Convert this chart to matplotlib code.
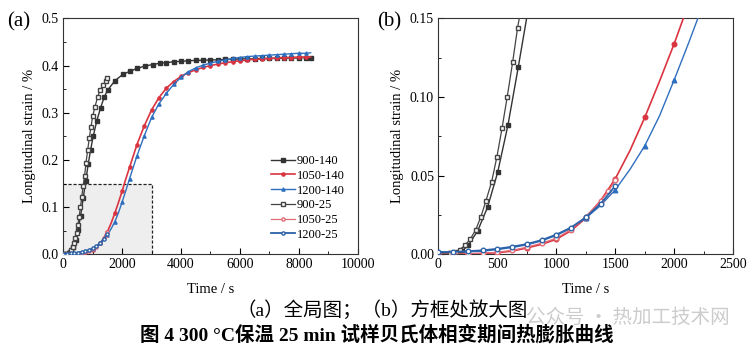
import numpy as np
import matplotlib.pyplot as plt
from matplotlib.ticker import MultipleLocator

plt.rcParams['font.family'] = ['Liberation Serif', 'Noto Sans CJK SC']

# ── Data ──────────────────────────────────────────────────────────────────────
t_900_140 = [0, 100, 200, 254, 334, 418, 503, 590, 678, 760, 850, 930, 1020, 1140,
             1270, 1390, 1508, 1757, 2018, 2266, 2515, 2776, 3038, 3286, 3500, 3750,
             4000, 4250, 4500, 4750, 5000, 5250, 5500, 5750, 6000, 6250, 6500, 6750,
             7000, 7250, 7500, 7750, 8000, 8250, 8400]
s_900_140 = [0.0005, 0.0005, 0.002, 0.0057, 0.0149, 0.030, 0.052, 0.082, 0.119, 0.155,
             0.192, 0.222, 0.251, 0.283, 0.311, 0.333, 0.348, 0.368, 0.381, 0.388,
             0.394, 0.399, 0.402, 0.405, 0.406, 0.408, 0.409, 0.410, 0.411, 0.411,
             0.412, 0.412, 0.413, 0.413, 0.414, 0.414, 0.414, 0.415, 0.415, 0.415,
             0.416, 0.416, 0.416, 0.417, 0.417]

t_900_25 = [0, 100, 150, 181, 226, 271, 317, 362, 404, 452, 497, 540, 584, 630, 672,
            725, 770, 829, 884, 940, 998, 1077, 1168, 1247, 1360, 1451, 1500]
s_900_25 = [0.001, 0.001, 0.0015, 0.003, 0.0057, 0.0096, 0.0155, 0.024, 0.034, 0.046,
            0.062, 0.080, 0.100, 0.122, 0.144, 0.166, 0.193, 0.221, 0.246, 0.270,
            0.292, 0.313, 0.333, 0.348, 0.359, 0.368, 0.373]

t_1050_140 = [0, 125, 250, 375, 500, 625, 750, 875, 1000, 1125, 1250, 1375, 1500, 1625,
              1750, 1875, 2000, 2125, 2250, 2500, 2750, 3000, 3250, 3500, 3750, 4000,
              4250, 4500, 4750, 5000, 5250, 5500, 5750, 6000, 6250, 6500, 6750, 7000,
              7250, 7500, 7750, 8000, 8250, 8400]
s_1050_140 = [0.0, 0.0, 0.0002, 0.0005, 0.001, 0.002, 0.004, 0.0063, 0.0095, 0.015,
              0.023, 0.034, 0.048, 0.066, 0.087, 0.110, 0.134, 0.160, 0.184, 0.232,
              0.272, 0.306, 0.332, 0.352, 0.366, 0.377, 0.385, 0.391, 0.396, 0.400,
              0.403, 0.406, 0.408, 0.410, 0.412, 0.413, 0.414, 0.415, 0.416, 0.417,
              0.417, 0.418, 0.418, 0.418]

t_1050_25 = [0, 125, 250, 375, 500, 625, 750, 875, 1000, 1125, 1250, 1375, 1440, 1500]
s_1050_25 = [0.0, 0.0, 0.0003, 0.0007, 0.0013, 0.0025, 0.0045, 0.007, 0.0102, 0.0157,
             0.024, 0.034, 0.040, 0.047]

t_1200_140 = [0, 125, 250, 375, 500, 625, 750, 875, 1000, 1125, 1250, 1375, 1500, 1625,
              1750, 1875, 2000, 2125, 2250, 2500, 2750, 3000, 3250, 3500, 3750, 4000,
              4250, 4500, 4750, 5000, 5250, 5500, 5750, 6000, 6250, 6500, 6750, 7000,
              7250, 7500, 7750, 8000, 8250, 8400]
s_1200_140 = [0.001, 0.001, 0.0015, 0.002, 0.003, 0.0043, 0.006, 0.0085, 0.012, 0.0165,
              0.023, 0.031, 0.041, 0.054, 0.069, 0.088, 0.111, 0.135, 0.160, 0.208,
              0.251, 0.290, 0.319, 0.341, 0.360, 0.375, 0.387, 0.395, 0.401, 0.405,
              0.409, 0.412, 0.415, 0.417, 0.419, 0.420, 0.421, 0.422, 0.423, 0.424,
              0.425, 0.426, 0.426, 0.427]

t_1200_25 = [0, 125, 250, 375, 500, 625, 750, 875, 1000, 1125, 1250, 1375, 1500]
s_1200_25 = [0.0015, 0.0015, 0.002, 0.0025, 0.0035, 0.0048, 0.0065, 0.009, 0.0125,
             0.017, 0.0235, 0.032, 0.0435]

ZOOM_T, ZOOM_S = 3000, 0.15

# ── Series styles ─────────────────────────────────────────────────────────────
SERIES = [
    ("900-140",  t_900_140,  s_900_140,  dict(color="#333333", marker="s", mfc="#333333", lw=1.0)),
    ("1050-140", t_1050_140, s_1050_140, dict(color="#d93440", marker="o", mfc="#d93440", lw=1.2)),
    ("1200-140", t_1200_140, s_1200_140, dict(color="#2f6fbf", marker="^", mfc="#2f6fbf", lw=1.0)),
    ("900-25",   t_900_25,   s_900_25,   dict(color="#444444", marker="s", mfc="white", lw=0.9)),
    ("1050-25",  t_1050_25,  s_1050_25,  dict(color="#e26b75", marker="o", mfc="white", lw=0.9)),
    ("1200-25",  t_1200_25,  s_1200_25,  dict(color="#2b62a8", marker="o", mfc="white", lw=1.3)),
]

fig = plt.figure(figsize=(7.55, 3.48), dpi=100)
ax1 = fig.add_axes([0.0838, 0.2693, 0.390, 0.678])
ax2 = fig.add_axes([0.5805, 0.2693, 0.3907, 0.678])


def style_ax(ax):
    ax.tick_params(which="both", direction="in", labelsize=10, top=False, right=False,
                   pad=3)
    ax.tick_params(which="major", length=4, width=0.8)
    ax.tick_params(which="minor", length=2, width=0.6)
    for sp in ax.spines.values():
        sp.set_linewidth(0.8)
        sp.set_edgecolor("#333333")
    ax.set_xlabel("Time / s", fontsize=10.5, labelpad=8)
    ax.set_ylabel("Longitudinal strain / %", fontsize=10.5, labelpad=4)


# zoom box
ax1.fill_between([0, ZOOM_T], 0, ZOOM_S, color="#eeeeee", lw=0, zorder=0)
ax1.plot([0, ZOOM_T, ZOOM_T], [ZOOM_S, ZOOM_S, 0], color="#222222", lw=0.9,
         ls=(0, (2.5, 1.5)), zorder=1)

for name, t, s, st in SERIES:
    t = np.asarray(t)
    mask = np.ones(len(t), bool)
    if name in ("1050-140", "1200-140"):
        mask = (t % 250 == 0)
    every = list(np.flatnonzero(mask))
    ax1.plot(t, s, label=name, markevery=every, ms=2.3, zorder=3, **st)
    ax2.plot(t, s, label=name, markevery=every, ms=3.3, zorder=3, **st)

ax1.set_xlim(0, 10000)
ax1.set_ylim(0, 0.5)
ax1.xaxis.set_major_locator(MultipleLocator(2000))
ax1.xaxis.set_minor_locator(MultipleLocator(1000))
ax1.yaxis.set_major_locator(MultipleLocator(0.1))
ax1.yaxis.set_minor_locator(MultipleLocator(0.05))
ax1.yaxis.set_major_formatter(plt.FormatStrFormatter("%.1f"))
style_ax(ax1)

ax2.set_xlim(0, 2500)
ax2.set_ylim(0, 0.15)
ax2.xaxis.set_major_locator(MultipleLocator(500))
ax2.xaxis.set_minor_locator(MultipleLocator(250))
ax2.yaxis.set_major_locator(MultipleLocator(0.05))
ax2.yaxis.set_minor_locator(MultipleLocator(0.025))
ax2.yaxis.set_major_formatter(plt.FormatStrFormatter("%.2f"))
style_ax(ax2)

ax1.legend(loc="lower right", bbox_to_anchor=(0.985, 0.02), frameon=False, fontsize=9,
           labelspacing=0.22, handlelength=1.9, handletextpad=0.15, borderpad=0.2,
           markerscale=1.0)

fig.text(0.010, 0.937, "(a)", fontsize=15, va="center", ha="left")
fig.text(0.499, 0.937, "(b)", fontsize=15, va="center", ha="left")

fig.text(0.506, 0.109, "（a）全局图；（b）方框处放大图", fontsize=14, ha="center", va="center")
fig.text(0.832, 0.089, "公众号 · 热加工技术网", fontsize=14, ha="center", va="center",
         color="#cccccc", family=["Noto Sans CJK SC"])
fig.text(0.499, 0.037, "图 4 300 °C保温 25 min 试样贝氏体相变期间热膨胀曲线", fontsize=14,
         ha="center", va="center", fontweight="bold")

fig.savefig("out.png", dpi=100)
